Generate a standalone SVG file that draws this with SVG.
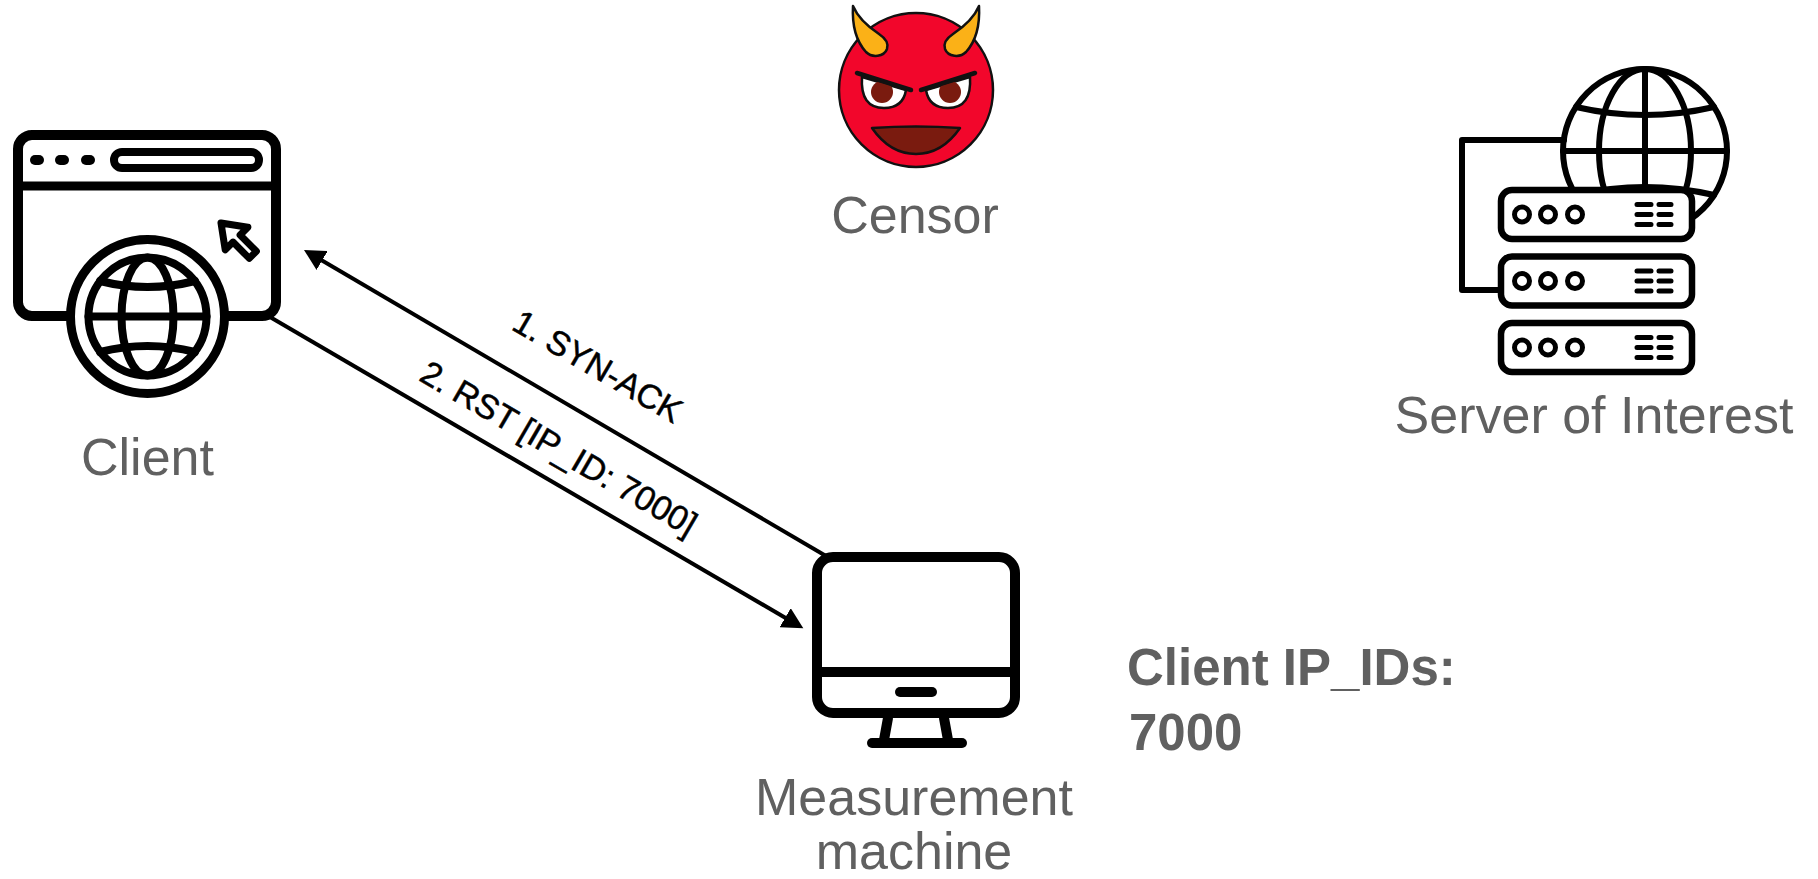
<svg xmlns="http://www.w3.org/2000/svg" width="1818" height="879" viewBox="0 0 1818 879">
  <style>
    .label { font-family: "Liberation Sans", Arial, Helvetica, sans-serif; font-size: 52px; fill: #606060; text-anchor: middle; }
    .info { font-family: "Liberation Sans", Arial, Helvetica, sans-serif; font-size: 51px; font-weight: bold; fill: #606060; }
    .edge-label { font-family: "Liberation Sans", Arial, Helvetica, sans-serif; font-size: 34px; fill: #000; stroke: #000; stroke-width: 0.5; text-anchor: middle; }
    .ink { fill: none; stroke: #000; stroke-linecap: round; stroke-linejoin: round; }
    .ink-w { fill: #fff; stroke: #000; stroke-linejoin: round; }
    .edge { fill: none; stroke: #000; stroke-width: 4; }
    .face-line { stroke: #111; stroke-width: 2.5; stroke-linejoin: round; }
  </style>
  <defs>
    <marker id="arrow" markerUnits="userSpaceOnUse" markerWidth="22" markerHeight="22" refX="5" refY="11" orient="auto">
      <path d="M0,0 L21,11 L0,22 Z" fill="#000"/>
    </marker>
    <clipPath id="eye-clip">
      <path d="M862,77 Q860,108 884,108 Q903,108 906,90 Z"/>
    </clipPath>
  </defs>

  <rect width="1818" height="879" fill="#fff"/>

  <!-- packet exchanges -->
  <g id="connectors">
    <line class="edge" x1="826" y1="556" x2="317.8" y2="258" marker-end="url(#arrow)"/>
    <line class="edge" x1="270" y1="317" x2="789.5" y2="620.2" marker-end="url(#arrow)"/>
    <text class="edge-label" transform="translate(598,366) rotate(30.2)" y="12">1. SYN-ACK</text>
    <text class="edge-label" transform="translate(559,448) rotate(30.2)" y="12">2. RST [IP_ID: 7000]</text>
  </g>

  <!-- browser window with globe -->
  <g id="client">
    <rect class="ink-w" x="18" y="135" width="258" height="181" rx="14" stroke-width="10"/>
    <line class="ink" x1="18" y1="186" x2="276" y2="186" stroke-width="9"/>
    <line class="ink" x1="35" y1="160" x2="39" y2="160" stroke-width="10"/>
    <line class="ink" x1="60" y1="160" x2="64" y2="160" stroke-width="10"/>
    <line class="ink" x1="86" y1="160" x2="90" y2="160" stroke-width="10"/>
    <rect class="ink" x="114" y="152" width="145" height="16" rx="8" stroke-width="8"/>
    <polygon class="ink" transform="translate(221,223) rotate(-45)" points="0,0 16,22 5,22 5,45 -5,45 -5,22 -16,22" stroke-width="7"/>
    <circle class="ink-w" cx="147.5" cy="316.5" r="77" stroke-width="9"/>
    <circle class="ink" cx="147.5" cy="316.5" r="59" stroke-width="8"/>
    <ellipse class="ink" cx="147.5" cy="316.5" rx="26" ry="59" stroke-width="8"/>
    <line class="ink" x1="88.5" y1="316.5" x2="206.5" y2="316.5" stroke-width="8"/>
    <path class="ink" d="M100,281 Q147.5,293 195,281" stroke-width="8"/>
    <path class="ink" d="M100,352 Q147.5,340 195,352" stroke-width="8"/>
    <text class="label" x="147.5" y="475">Client</text>
  </g>

  <!-- devil face -->
  <g id="censor">
    <circle class="face-line" cx="916" cy="90" r="77" fill="#F2062B"/>
    <g id="horn-left">
      <path class="face-line" fill="#FBB117" d="M853,6 C852,24 856,41 866,52 C872,58 884,57 887,49 C889,43 885,38 879,34 C867,26 858,18 853,6 Z"/>
    </g>
    <use href="#horn-left" transform="translate(1832,0) scale(-1,1)"/>
    <g id="eye-left">
      <path class="face-line" fill="#fff" d="M862,77 Q860,108 884,108 Q903,108 906,90 Z"/>
      <circle cx="882" cy="92" r="11" fill="#7A1B0F" clip-path="url(#eye-clip)"/>
      <line x1="857" y1="73" x2="911" y2="90" stroke="#111" stroke-width="4.5" stroke-linecap="round"/>
    </g>
    <use href="#eye-left" transform="translate(1832,0) scale(-1,1)"/>
    <path class="face-line" fill="#7A1B0F" d="M872,128 Q916,125 960,128 Q942,154 916,154 Q890,154 872,128 Z"/>
    <text class="label" x="915" y="233">Censor</text>
  </g>

  <!-- server racks with globe -->
  <g id="server">
    <circle class="ink-w" cx="1645" cy="151" r="82" stroke-width="6"/>
    <ellipse class="ink" cx="1645" cy="151" rx="46" ry="82" stroke-width="6"/>
    <line class="ink" x1="1645" y1="69" x2="1645" y2="233" stroke-width="6"/>
    <line class="ink" x1="1563" y1="151" x2="1727" y2="151" stroke-width="6"/>
    <path class="ink" d="M1576,107 Q1645,123 1714,107" stroke-width="6"/>
    <path class="ink" d="M1576,195 Q1645,179 1714,195" stroke-width="6"/>
    <polyline class="ink" points="1564,140 1462,140 1462,290 1501,290" stroke-width="6" stroke-linecap="butt" stroke-linejoin="miter"/>
    <g id="rack">
      <rect class="ink-w" x="1501" y="190" width="191" height="49" rx="11" stroke-width="6.5"/>
      <circle class="ink" cx="1522" cy="214.5" r="7.5" stroke-width="5"/>
      <circle class="ink" cx="1548" cy="214.5" r="7.5" stroke-width="5"/>
      <circle class="ink" cx="1575" cy="214.5" r="7.5" stroke-width="5"/>
      <path class="ink" d="M1637,204.5 H1651 M1659,204.5 H1671 M1637,214.5 H1651 M1659,214.5 H1671 M1637,224.5 H1651 M1659,224.5 H1671" stroke-width="5"/>
    </g>
    <use href="#rack" y="66.5"/>
    <use href="#rack" y="133"/>
    <text class="label" x="1594" y="433">Server of Interest</text>
  </g>

  <!-- desktop monitor -->
  <g id="measurement">
    <rect class="ink-w" x="817" y="557" width="198" height="156" rx="16" stroke-width="10"/>
    <line class="ink" x1="817" y1="672" x2="1015" y2="672" stroke-width="10" stroke-linecap="butt"/>
    <line class="ink" x1="900" y1="692" x2="932" y2="692" stroke-width="10"/>
    <line class="ink" x1="888" y1="718" x2="884" y2="740" stroke-width="10" stroke-linecap="butt"/>
    <line class="ink" x1="944" y1="718" x2="948" y2="740" stroke-width="10" stroke-linecap="butt"/>
    <line class="ink" x1="872" y1="743" x2="962" y2="743" stroke-width="10"/>
    <text class="label" x="914" y="815">Measurement</text>
    <text class="label" x="914" y="869">machine</text>
  </g>

  <g id="ip-ids">
    <text class="info" x="1127" y="685">Client IP_IDs:</text>
    <text class="info" x="1129" y="750">7000</text>
  </g>
</svg>
